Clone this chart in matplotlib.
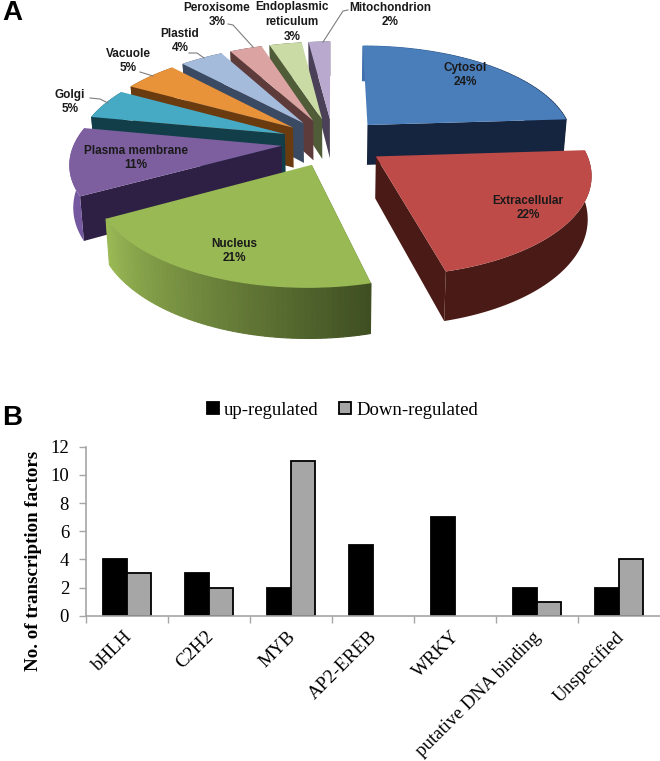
import numpy as np
import matplotlib
matplotlib.use('Agg')
import matplotlib.pyplot as plt
from matplotlib.colors import to_rgb
from matplotlib.patches import Polygon

# panel A
locations = ['Cytosol', 'Extracellular', 'Nucleus', 'Plasma membrane', 'Golgi',
             'Vacuole', 'Plastid', 'Peroxisome', 'Endoplasmic\nreticulum', 'Mitochondrion']
shares = [24, 22, 21, 11, 5, 5, 4, 3, 3, 2]

# panel B
families = ['bHLH', 'C2H2', 'MYB', 'AP2-EREB', 'WRKY', 'putative DNA binding', 'Unspecified']
up = [4, 3, 2, 5, 7, 2, 2]
down = [3, 2, 11, 0, 0, 1, 4]

top_cols = ['#4a7ebb', '#be4b48', '#98b954', '#7d5fa0', '#46aac5',
            '#e8923a', '#a5bbdc', '#dba4a3', '#cbdba5', '#b9a9cf']
wall_cols = ['#16253f', '#4a1a16', '#4a5c26', '#2e2045', '#123e49',
             '#6b3b10', '#3b4a63', '#5e3b3b', '#505b38', '#4a4058']
rim_light = ['#16253f', '#4a1a16', '#9ab955', '#7459a0', '#123e49',
             '#6b3b10', '#3b4a63', '#5e3b3b', '#505b38', '#4a4058']
rim_dark = ['#3f70ac', '#4a1a16', '#3f4f22', '#7459a0', '#123e49',
            '#6b3b10', '#3b4a63', '#5e3b3b', '#505b38', '#4a4058']

cx, cy = 333, 142
rx, ry = 207, 96
k = 0.155
explode = 0.25
depth = 41


def project(u, v, down=0.0):
    p = 1 / (1 + k * v)
    return cx + rx * u * p * (1 - 0.015 * down), cy - ry * v * p + depth * p * down


fig = plt.figure(figsize=(6.6, 7.61), dpi=100)
pix = fig.add_axes([0, 0, 1, 1])
pix.set_xlim(0, 660)
pix.set_ylim(761, 0)
pix.axis('off')

bounds = np.cumsum([0] + shares) * 3.6
order = [9, 8, 7, 6, 5, 4, 3, 2, 0, 1]
z = 2
for i in order:
    a0, a1 = np.radians(bounds[i]), np.radians(bounds[i + 1])
    mid = (a0 + a1) / 2
    ou, ov = explode * np.sin(mid), explode * np.cos(mid)
    th = np.linspace(a0, a1, 60)
    us, vs = ou + np.sin(th), ov + np.cos(th)
    # only the radial wall that faces the viewer
    right = np.sin(mid) > 0
    end = -1 if right else 0
    pts = [project(ou, ov), project(us[end], vs[end]),
           project(us[end], vs[end], 1), project(ou, ov, 1)]
    pix.add_patch(Polygon(pts, fc=wall_cols[i], ec='none', zorder=z + (0.15 if right else 0)))
    # rim, shaded along the arc when the two colours differ
    if rim_light[i] == rim_dark[i]:
        pts = [project(a, b) for a, b in zip(us, vs)] + [project(a, b, 1) for a, b in zip(us[::-1], vs[::-1])]
        pix.add_patch(Polygon(pts, fc=rim_light[i], ec='none', zorder=z + 0.1))
    else:
        light, dark = np.array(to_rgb(rim_light[i])), np.array(to_rgb(rim_dark[i]))
        for j in range(len(th) - 1):
            f = 1 - j / (len(th) - 2)
            c = light + (dark - light) * f
            pts = [project(us[j], vs[j]), project(us[j + 1], vs[j + 1]),
                   project(us[j + 1], vs[j + 1], 1), project(us[j], vs[j], 1)]
            pix.add_patch(Polygon(pts, fc=c, ec=c, lw=0.8, zorder=z + 0.1))
    # top
    pts = [project(ou, ov)] + [project(a, b) for a, b in zip(us, vs)]
    pix.add_patch(Polygon(pts, fc=top_cols[i], ec='none', zorder=z + 0.2))
    z += 1

label_pos = [(465, 75), (528, 208), (234, 251), (136, 158), (70, 102),
             (128, 61), (180, 41), (217, 15), (292, 22), (390, 15)]
leaders = [None, None, None, None,
           [(90, 98), (100, 99), (108, 103)], [(140, 72), (153, 76)],
           [(189, 53), (197, 53), (204, 58)], [(228, 24), (233, 25), (253, 47)],
           None, [(348, 10), (343, 11), (323, 42)]]
for name, share, pos, lead in zip(locations, shares, label_pos, leaders):
    pix.text(pos[0], pos[1], f'{name}\n{share}%', ha='center', va='center', fontsize=8.5,
             fontweight='bold', family='Liberation Sans', color='#1a1a1a', linespacing=1.3, zorder=50)
    if lead:
        xs, ys = zip(*lead)
        pix.plot(xs, ys, color='#7f7f7f', lw=0.8, zorder=49)

pix.text(2, 13, 'A', fontsize=20, fontweight='bold', family='Liberation Sans', va='center')
pix.text(2, 418, 'B', fontsize=20, fontweight='bold', family='Liberation Sans', va='center')

ax = fig.add_axes([85.7 / 660, 1 - 615.7 / 761, 574.3 / 660, 169 / 761])
x = np.arange(len(families))
w = 0.29
ax.bar(x - w / 2, up, w, color='black', edgecolor='black', lw=1.3, label='up-regulated')
ax.bar(x + w / 2, [d if d else np.nan for d in down], w, color='#a6a6a6', edgecolor='black', lw=1.3,
       label='Down-regulated')
ax.set_xlim(-0.5, 6.5)
ax.set_ylim(0, 12)
ax.set_yticks(range(0, 13, 2))
ax.set_xticks(np.arange(-0.5, 6.5))
ax.set_xticklabels([])
for s in ('top', 'right'):
    ax.spines[s].set_visible(False)
for s in ('left', 'bottom'):
    ax.spines[s].set_color('#a6a6a6')
    ax.spines[s].set_linewidth(1.2)
ax.tick_params(colors='#a6a6a6', length=5, width=1.0)
ax.tick_params(axis='y', labelcolor='black', labelsize=13.5, pad=7)
for t in ax.get_yticklabels():
    t.set_family('Liberation Serif')
ax.patch.set_alpha(0)
for xi, fam in zip(x, families):
    ax.annotate(fam, (xi, 0), xycoords=('data', 'axes fraction'), xytext=(-3, -9),
                textcoords='offset points', rotation=45, ha='right', va='top', rotation_mode='anchor',
                fontsize=13.7, family='Liberation Serif')
pix.text(34, 561, 'No. of transcription factors', rotation=90, ha='center', va='center',
         fontsize=13.6, fontweight='bold', family='Liberation Serif')
leg = fig.legend(loc='upper left', bbox_to_anchor=(207 / 660, 1 - 402 / 761), ncol=2, frameon=False,
                 prop={'family': 'Liberation Serif', 'size': 13.5}, handlelength=0.65, handleheight=0.6,
                 handletextpad=0.25, columnspacing=1.1, borderpad=0, borderaxespad=0)
fig.savefig('out.png', dpi=100)
